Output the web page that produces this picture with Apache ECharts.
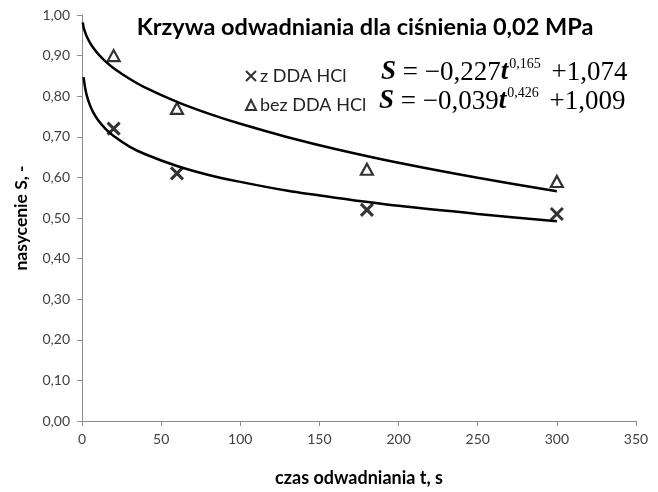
<!DOCTYPE html>
<html><head><meta charset="utf-8">
<script src="https://cdn.jsdelivr.net/npm/echarts@6/dist/echarts.min.js"></script>
<style>html,body{margin:0;padding:0;background:#fff}#c{width:658px;height:492px}</style>
</head><body><div id="c"></div>
<script>
const titleText = 'Krzywa odwadniania dla ciśnienia 0,02 MPa';
const xName = 'czas odwadniania t, s';
const yName = 'nasycenie S, -';
const seriesNames = ['z DDA HCl', 'bez DDA HCl'];
// measured points
const zDDA = [[20, 0.72], [60, 0.61], [180, 0.52], [300, 0.51]];
const bezDDA = [[20, 0.90], [60, 0.77], [180, 0.62], [300, 0.59]];
// trend curves
const trendZ = [[1,0.847],[2,0.820],[3,0.802],[5,0.778],[7,0.761],[10,0.742],[15,0.719],[20,0.702],[30,0.676],[40,0.657],[60,0.628],[80,0.606],[100,0.589],[130,0.567],[160,0.550],[200,0.530],[250,0.510],[300,0.492]];
const trendBez = [[0.5,0.982],[1,0.970],[2,0.957],[3,0.947],[5,0.932],[7,0.920],[10,0.905],[15,0.885],[20,0.869],[30,0.843],[40,0.821],[60,0.786],[80,0.757],[100,0.732],[130,0.699],[160,0.670],[200,0.636],[250,0.599],[300,0.566]];
const eqZ = {a: '0,227', b: '0,165', c: '1,074'};
const eqBez = {a: '0,039', b: '0,426', c: '1,009'};

const sans = 'Lato, "Open Sans", sans-serif';
const serif = '"Liberation Serif", "DejaVu Serif", serif';
const crossPath = 'path://M0,0L10,10M10,0L0,10';

function eqText(e) {
  return '{s|S}{n| = \u2212' + e.a + '}{s|t}{sup|' + e.b + '}{n| +' + e.c + '}';
}
const eqRich = {
  s: {fontFamily: serif, fontStyle: 'italic', fontWeight: 'bold', fontSize: 27, fill: '#000', verticalAlign: 'bottom', lineHeight: 29},
  n: {fontFamily: serif, fontSize: 27, fill: '#000', verticalAlign: 'bottom', lineHeight: 29},
  sup: {fontFamily: serif, fontSize: 14, fill: '#000', verticalAlign: 'top', lineHeight: 29, padding: [0, 4, 0, 1]}
};

const chart = echarts.init(document.getElementById('c'), null, {renderer: 'canvas'});
chart.setOption({
  animation: false,
  backgroundColor: '#fff',
  title: {
    text: titleText, left: 360, top: 10, textAlign: 'center',
    textStyle: {fontFamily: sans, fontWeight: 'bold', fontSize: 23.5, color: '#000'}
  },
  grid: {left: 82, right: 22, top: 15, bottom: 65},
  legend: {
    orient: 'vertical', left: 240, top: 62, itemGap: 11,
    itemWidth: 10, itemHeight: 10,
    data: seriesNames,
    textStyle: {fontFamily: sans, fontSize: 18, color: '#222', padding: [0, 0, 0, -1]}
  },
  xAxis: {
    type: 'value', min: 0, max: 350, interval: 50,
    name: xName, nameLocation: 'middle', nameGap: 48,
    nameTextStyle: {fontFamily: sans, fontWeight: 'bold', fontSize: 18, color: '#000'},
    axisLine: {show: true, lineStyle: {color: '#8c8c8c', width: 1}},
    axisTick: {show: true, inside: false, length: 5, lineStyle: {color: '#8c8c8c'}},
    axisLabel: {fontFamily: sans, fontSize: 14, color: '#404040', margin: 11},
    splitLine: {show: false}
  },
  yAxis: {
    type: 'value', min: 0, max: 1, interval: 0.1,
    name: yName, nameLocation: 'middle', nameGap: 52,
    nameTextStyle: {fontFamily: sans, fontWeight: 'bold', fontSize: 17.5, color: '#000'},
    axisLine: {show: true, lineStyle: {color: '#8c8c8c', width: 1}},
    axisTick: {show: true, inside: false, length: 5, lineStyle: {color: '#8c8c8c'}},
    axisLabel: {fontFamily: sans, fontSize: 14, color: '#404040', margin: 12,
      formatter: v => v.toFixed(2).replace('.', ',')},
    splitLine: {show: false}
  },
  graphic: [
    {type: 'text', left: 381, top: 57, style: {text: eqText(eqZ), rich: eqRich}},
    {type: 'text', left: 379, top: 86, style: {text: eqText(eqBez), rich: eqRich}}
  ],
  series: [
    {type: 'line', data: trendZ, showSymbol: false, symbol: 'none', smooth: 0.3,
      lineStyle: {color: '#000', width: 2.5}, silent: true, z: 2},
    {type: 'line', data: trendBez, showSymbol: false, symbol: 'none', smooth: 0.3,
      lineStyle: {color: '#000', width: 2.5}, silent: true, z: 2},
    {name: seriesNames[0], type: 'scatter', data: zDDA, symbol: crossPath, symbolSize: 12,
      itemStyle: {color: '#000', borderColor: '#000', borderWidth: 3}, z: 3},
    {name: seriesNames[1], type: 'scatter', data: bezDDA, symbol: 'triangle', symbolSize: [12, 11],
      itemStyle: {color: '#fff', borderColor: '#000', borderWidth: 2.2}, z: 3}
  ]
});
</script></body></html>
